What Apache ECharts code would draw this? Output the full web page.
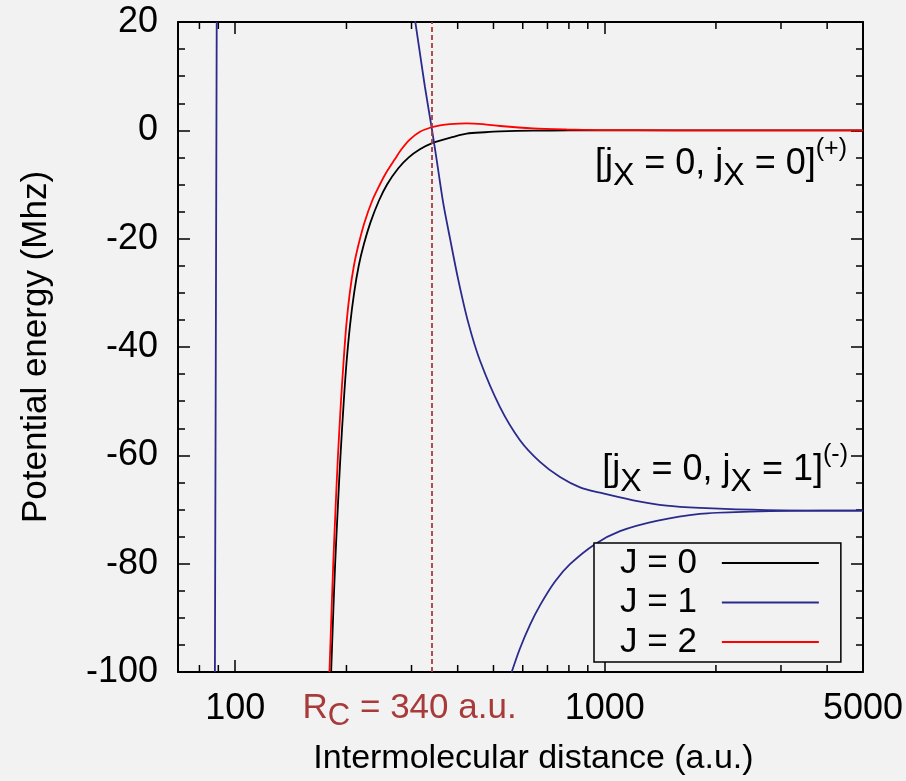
<!DOCTYPE html>
<html><head><meta charset="utf-8">
<script src="https://cdn.jsdelivr.net/npm/echarts@6/dist/echarts.min.js"></script>
<style>html,body{margin:0;padding:0;background:#f2f2f2}#c{width:906px;height:781px}</style>
</head><body><div id="c"></div>
<script>
// ---- axes ----
const xMin = 70, xMax = 5000;
const yMin = -100, yMax = 20, yStep = 20;
const xLabelValues = [100, 1000, 5000];
const xMinorTicks = [80, 90, 200, 300, 400, 500, 600, 700, 800, 900, 2000, 3000, 4000];
const rcValue = 340;

// ---- J = 0 (black) ----
const j0Dist   = [181.8, 184.0, 186.4, 189.4, 192.7, 196.7, 200.0, 204.5, 209.8, 215.9, 223.0, 232.3, 244.8, 257.6, 276.3, 294.9, 316.1, 340.2, 389.2, 423.0, 474, 520.7, 639.5, 800, 1000, 2000, 5000];
const j0Energy = [-100, -90, -80, -70, -60, -50, -43, -36, -30, -25, -21, -17, -13, -10, -7, -5, -3.5, -2.4, -1.2, -0.6, -0.35, -0.2, -0.06, -0.02, -0.01, 0, 0];

// ---- J = 1 (blue), three branches ----
const j1aDist   = [88.1, 88.6, 89.1];
const j1aEnergy = [-100, -40, 20];
const j1bDist   = [306.6, 316.2, 326.2, 340.1, 351.0, 365.7, 381.2, 401.5, 427.3, 459.6, 520.7, 589.7, 668.1, 756.8, 857.5, 971.0, 1195, 1471, 1809, 2743, 5000];
const j1bEnergy = [20.4, 14.2, 8.0, 0.5, -5.5, -13.5, -19.9, -27.6, -35.5, -42.5, -51.1, -57.2, -61.2, -64.0, -65.9, -66.9, -68.3, -69.3, -69.7, -70.1, -70.2];
const j1cDist   = [559.5, 589.3, 627.7, 668.1, 733.7, 805.4, 941.0, 1100, 1382, 1809, 2472, 3896, 5000];
const j1cEnergy = [-100.1, -95.7, -91.3, -87.7, -83.3, -80.1, -76.4, -74.0, -72.1, -70.8, -70.4, -70.2, -70.2];

// ---- J = 2 (red) ----
const j2Dist   = [179.9, 182.0, 184.2, 186.8, 189.7, 193.3, 196.3, 199.8, 204.2, 209.5, 215.8, 223.8, 234.8, 246.3, 255.2, 270.6, 281.8, 297.2, 316.2, 336.6, 358.3, 381.2, 423, 468.3, 520.7, 639.5, 789, 971, 1500, 5000];
const j2Energy = [-100, -90, -80, -70, -60, -50, -43, -36, -30, -25, -21, -17, -13, -10, -8, -5.3, -3.5, -1.67, -0.27, 0.48, 0.9, 1.15, 1.3, 1.15, 0.8, 0.35, 0.15, 0.05, 0.01, 0];

// ---- annotations ----
const ann1 = { r: 4527, e: -6.3 };
const ann2 = { r: 4554, e: -62.8 };

const FONT = 'Liberation Sans';
const zip = (a, b) => a.map((v, i) => [v, b[i]]);
const C0 = '#000000', C1 = '#2a2a8c', C2 = '#ff0000', CRC = '#a83a3a';

const annRich = {
  b: { fontSize: 36, fontFamily: FONT, color: '#000', lineHeight: 56 },
  s: { fontSize: 32, fontFamily: FONT, color: '#000', lineHeight: 41, verticalAlign: 'bottom' },
  p: { fontSize: 25, fontFamily: FONT, color: '#000', lineHeight: 34, verticalAlign: 'top' }
};

function lineSeries(name, color, dist, energy, extra) {
  return Object.assign({
    type: 'line', name, data: zip(dist, energy),
    symbol: 'none', showSymbol: false, smooth: 0.3,
    lineStyle: { color, width: 1.8 }, itemStyle: { color },
    clip: true, silent: true
  }, extra || {});
}

const axisLineStyle = { show: true, onZero: false, lineStyle: { color: '#000', width: 2 } };
const tickStyle = { show: true, inside: true, length: 12, lineStyle: { color: '#000', width: 1.5 } };

const option = {
  backgroundColor: '#f2f2f2',
  animation: false,
  textStyle: { fontFamily: FONT },
  grid: { left: 178, top: 22, width: 685, height: 650, containLabel: false },
  legend: {
    data: ['J = 0', 'J = 1', 'J = 2'],
    orient: 'vertical', left: 594, top: 543, align: 'right',
    icon: 'rect', itemWidth: 97, itemHeight: 2, itemGap: 4.5,
    padding: [2.5, 22, 2.5, 26],
    borderColor: '#000', borderWidth: 1.5, borderRadius: 0,
    backgroundColor: '#f2f2f2',
    textStyle: { fontFamily: FONT, fontSize: 35, color: '#000', lineHeight: 35, padding: [0, 20, 0, 0] },
    selectedMode: false
  },
  xAxis: [
    {
      type: 'log', logBase: 10, min: xMin, max: xMax, position: 'bottom',
      name: 'Intermolecular distance (a.u.)', nameLocation: 'middle', nameGap: 70,
      nameTextStyle: { fontFamily: FONT, fontSize: 34, color: '#000', padding: [0, 0, 0, 26] },
      axisLine: axisLineStyle, axisTick: tickStyle, splitLine: { show: false },
      axisLabel: {
        fontFamily: FONT, fontSize: 36, color: '#000', margin: 19, showMinLabel: true, showMaxLabel: true,
        formatter: v => xLabelValues.some(t => Math.abs(t - v) < 1e-6 * t) ? String(Math.round(v)) : ''
      }
    },
    {
      type: 'log', logBase: 10, min: xMin, max: xMax, position: 'top',
      axisLine: axisLineStyle, axisTick: tickStyle, axisLabel: { show: false }, splitLine: { show: false }
    }
  ],
  yAxis: [
    {
      type: 'value', min: yMin, max: yMax, interval: yStep, position: 'left',
      name: 'Potential energy (Mhz)', nameLocation: 'middle', nameGap: 124, nameRotate: 90,
      nameTextStyle: { fontFamily: FONT, fontSize: 35, color: '#000' },
      axisLine: axisLineStyle, axisTick: tickStyle,
      minorTick: { show: true, splitNumber: 4, length: 7, lineStyle: { color: '#000', width: 1.5 } },
      splitLine: { show: false },
      axisLabel: { fontFamily: FONT, fontSize: 36, color: '#000', margin: 20 }
    },
    {
      type: 'value', min: yMin, max: yMax, interval: yStep, position: 'right',
      axisLine: axisLineStyle, axisTick: tickStyle,
      minorTick: { show: true, splitNumber: 4, length: 7, lineStyle: { color: '#000', width: 1.5 } },
      splitLine: { show: false }, axisLabel: { show: false }
    }
  ],
  series: [
    lineSeries('J = 0', C0, j0Dist, j0Energy, {
      markLine: {
        silent: true, symbol: ['none', 'none'], animation: false,
        lineStyle: { type: [5, 3], color: CRC, width: 1.8 },
        label: {
          show: true, position: 'start', distance: 12,
          formatter: '{b|R}{s|C}{b| = 340 a.u.}',
          padding: [0, 44, 0, 0],
          rich: {
            b: { fontSize: 35, fontFamily: FONT, color: CRC, lineHeight: 48 },
            s: { fontSize: 31, fontFamily: FONT, color: CRC, lineHeight: 22, verticalAlign: 'bottom' }
          }
        },
        data: [{ xAxis: rcValue }]
      },
      markPoint: {
        silent: true, symbol: 'circle', symbolSize: 0, animation: false,
        label: {
          show: true, position: 'left', distance: 0,
          formatter: '{b|[j}{s|X}{b| = 0, j}{s|X}{b| = 0]}{p|(+)}', rich: annRich
        },
        data: [{ coord: [ann1.r, ann1.e] }]
      }
    }),
    lineSeries('J = 1', C1, j1aDist, j1aEnergy, { smooth: false }),
    lineSeries('J = 1', C1, j1bDist, j1bEnergy, {
      markPoint: {
        silent: true, symbol: 'circle', symbolSize: 0, animation: false,
        label: {
          show: true, position: 'left', distance: 0,
          formatter: '{b|[j}{s|X}{b| = 0, j}{s|X}{b| = 1]}{p|(-)}', rich: annRich
        },
        data: [{ coord: [ann2.r, ann2.e] }]
      }
    }),
    lineSeries('J = 1', C1, j1cDist, j1cEnergy),
    lineSeries('J = 2', C2, j2Dist, j2Energy),
    {
      type: 'custom', name: 'minor-ticks', silent: true,
      data: xMinorTicks.map(v => [v, yMin]),
      encode: { x: 0, y: 1 },
      renderItem: (params, api) => {
        const v = api.value(0);
        const b = api.coord([v, yMin]);
        const t = api.coord([v, yMax]);
        const st = { stroke: '#000', lineWidth: 1.5 };
        return {
          type: 'group', children: [
            { type: 'line', shape: { x1: b[0], y1: b[1], x2: b[0], y2: b[1] - 7 }, style: st },
            { type: 'line', shape: { x1: t[0], y1: t[1], x2: t[0], y2: t[1] + 7 }, style: st }
          ]
        };
      }
    }
  ]
};

const chart = echarts.init(document.getElementById('c'), null, { renderer: 'canvas' });
chart.setOption(option);
</script>
</body></html>
